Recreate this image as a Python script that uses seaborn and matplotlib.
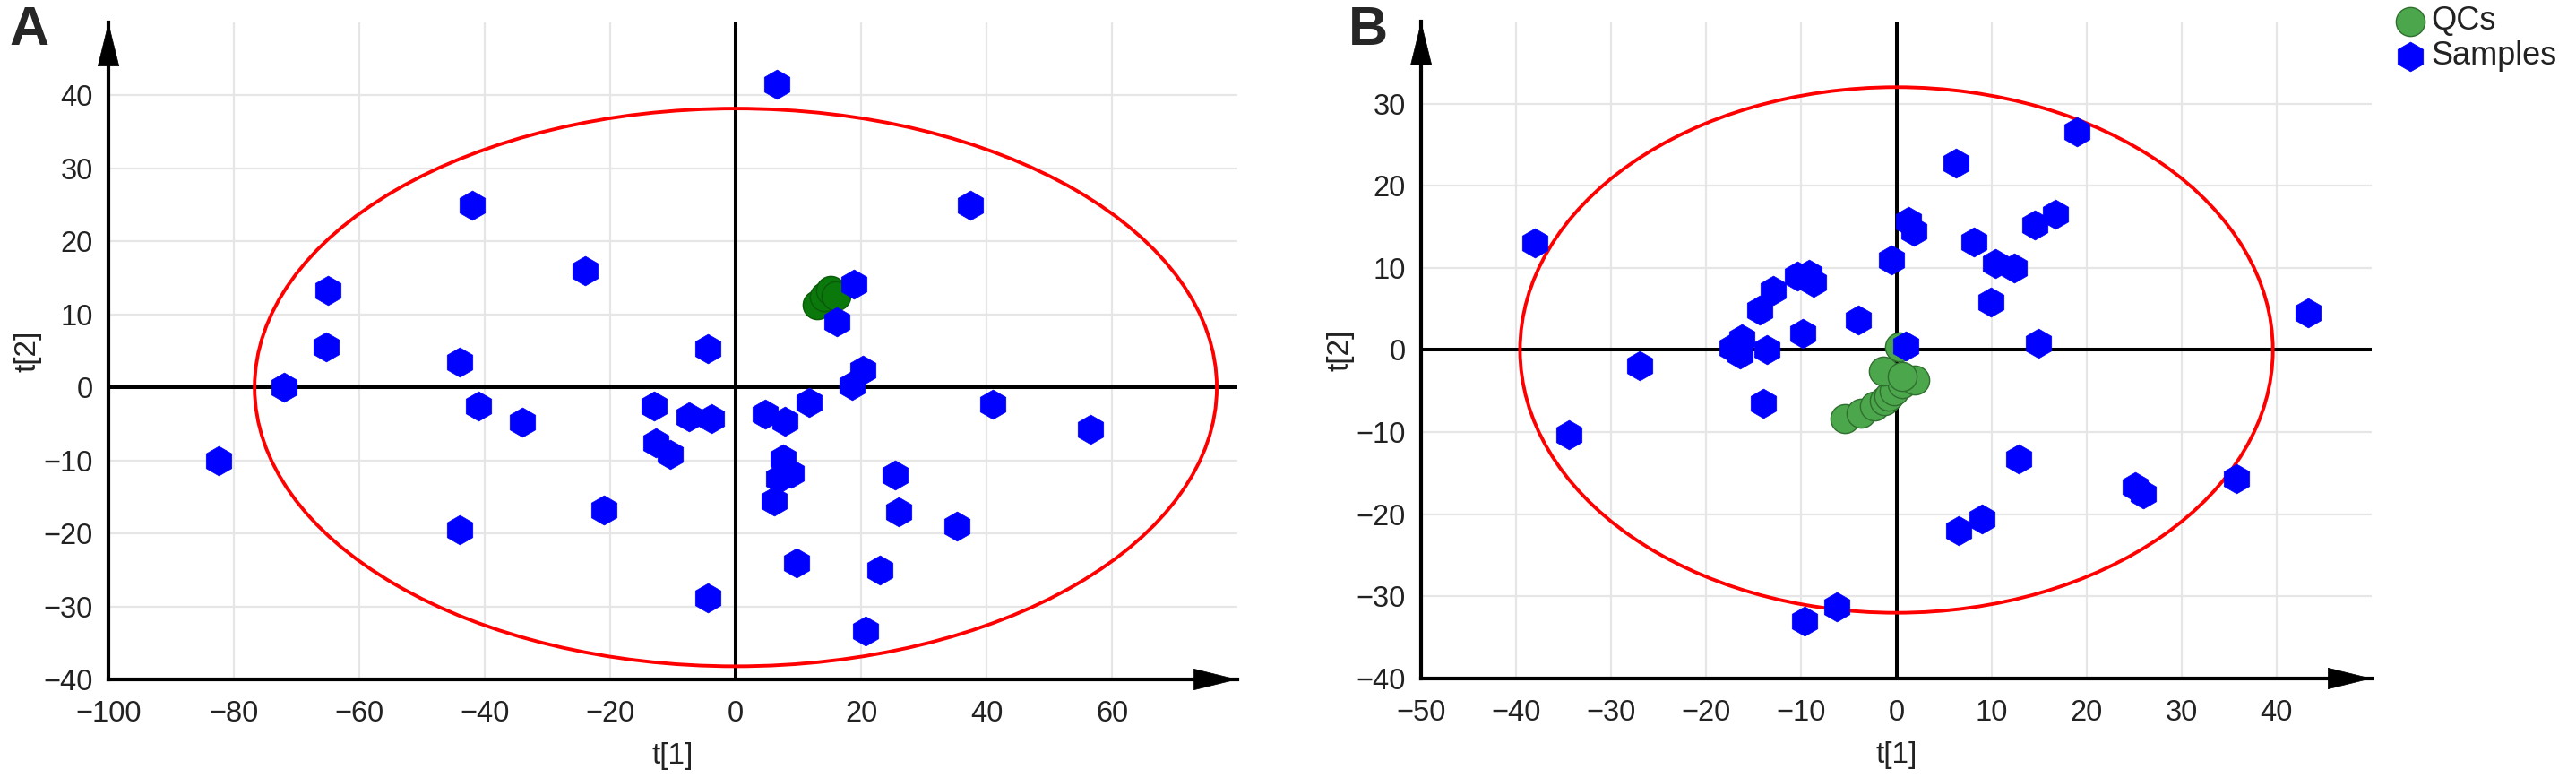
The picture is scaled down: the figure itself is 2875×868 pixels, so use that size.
import matplotlib
matplotlib.use('Agg')
from matplotlib import pyplot as plt
from matplotlib.patches import Ellipse
from matplotlib.ticker import MultipleLocator
import seaborn as sns
import pandas as pd

# Panel A scores
a_sample_t1 = [-82.5, -72, -65, -65.3, -42, -44, -41, -34, -44, -24, -21, -13, -12.7, -10.5,
               -7.5, -3.8, -4.5, -4.5, 4.7, 7.8, 11.7, 7.5, 6.8, 8.8, 6.1, 9.7, 6.5, 18.8,
               16.1, 20.3, 18.6, 25.4, 26, 23, 20.7, 35.3, 41, 56.5, 37.4]
a_sample_t2 = [-10, 0, 13.3, 5.5, 25, 3.5, -2.5, -4.8, -19.5, 16, -16.8, -2.6, -7.6, -9.2,
               -4, -4.3, 5.3, -28.8, -3.7, -4.6, -2.1, -9.8, -12.5, -11.8, -15.6, -24, 41.5, 14.2,
               9, 2.4, 0.3, -12, -17, -25, -33.4, -19, -2.3, -5.8, 25]
a_qc_t1 = [13, 14.1, 15.1, 16]
a_qc_t2 = [11.3, 12.4, 13.3, 12.5]
a_limit = (76.7, 38.2)  # ellipse semi-axes t[1], t[2]

# Panel B scores
b_sample_t1 = [-38, -34.5, -27, -17.3, -16.3, -16.5, -13.6, -14.4, -13, -10.4, -9.2, -8.7, -9.9,
               -14, -4, -0.5, 1.3, 1.8, 1, 6.3, 8.1, 10.4, 12.4, 9.9, 14.6, 16.7, 19, 14.9,
               43.3, 12.9, 25.1, 26, 35.8, 6.5, 9, -9.7, -6.3]
b_sample_t2 = [13, -10.3, -1.9, 0.3, 1.4, -0.5, 0, 4.8, 7.2, 9, 9.2, 8.2, 2,
               -6.5, 3.6, 11, 15.7, 14.5, 0.5, 22.8, 13.1, 10.5, 10, 5.8, 15.2, 16.5, 26.6, 0.8,
               4.5, -13.3, -16.7, -17.5, -15.7, -22, -20.6, -33, -31.3]
b_qc_t1 = [-5.4, -3.7, -2.3, -1.3, -0.8, -0.2, 0.6, 1.9, -1.4, 0.6, 0.3]
b_qc_t2 = [-8.4, -7.7, -6.8, -6.2, -5.6, -5.0, -4.1, -3.7, -2.6, -3.2, 0.4]
b_limit = (39.6, 32.0)

sns.set_style('white')
plt.rcParams['font.family'] = ['Liberation Sans', 'DejaVu Sans']

TXT = '#222222'


def draw_panel(ax, s_x, s_y, q_x, q_y, q_color, q_edge, limit, xlim, ylim, xticks, yticks):
    ax.set_xlim(*xlim)
    ax.set_ylim(*ylim)
    ax.set_xticks(xticks)
    ax.set_yticks(yticks)
    ax.xaxis.set_minor_locator(MultipleLocator(5))
    ax.yaxis.set_minor_locator(MultipleLocator(5))
    ax.grid(True, which='major', color='#e6e6e6', lw=1.6)
    ax.set_axisbelow(True)

    ax.axhline(0, color='black', lw=2.9, zorder=1.5)
    ax.axvline(0, color='black', lw=2.9, zorder=1.5)
    ax.add_patch(Ellipse((0, 0), 2 * limit[0], 2 * limit[1], fill=False,
                         ec='#ff0000', lw=2.8, zorder=1.8))

    qc = pd.DataFrame({'t1': q_x, 't2': q_y})
    smp = pd.DataFrame({'t1': s_x, 't2': s_y})
    sns.scatterplot(data=qc, x='t1', y='t2', ax=ax, marker='o', s=540, color=q_color,
                    edgecolor=q_edge, linewidth=1.0, label='QCs', zorder=3, legend=False)
    sns.scatterplot(data=smp, x='t1', y='t2', ax=ax, marker='h', s=560, color='#0000ff',
                    edgecolor='#0000ff', linewidth=0.5, label='Samples', zorder=4, legend=False)

    for side in ['top', 'right']:
        ax.spines[side].set_visible(False)
    for side in ['left', 'bottom']:
        ax.spines[side].set_linewidth(3.0)
        ax.spines[side].set_color('black')
    ax.tick_params(which='major', direction='out', length=9.5, width=2.4, color='black',
                   labelsize=23.5, labelcolor=TXT)
    ax.tick_params(which='minor', direction='out', length=6.5, width=2.4, color='black')
    ax.tick_params(axis='x', which='major', pad=7)
    ax.tick_params(axis='y', which='major', pad=3)

    head = dict(arrowstyle='-|>,head_length=1.7,head_width=0.42', mutation_scale=20,
                fc='black', ec='black', lw=0.5, shrinkA=0, shrinkB=0)
    ax.annotate('', xy=(1, 0), xytext=(0.9, 0), xycoords='axes fraction',
                arrowprops=head, annotation_clip=False)
    ax.annotate('', xy=(0, 1), xytext=(0, 0.9), xycoords='axes fraction',
                arrowprops=head, annotation_clip=False)

    ax.set_xlabel('t[1]', fontsize=24, color=TXT)
    ax.set_ylabel('t[2]', fontsize=24, color=TXT)
    ax.xaxis.set_label_coords(0.5, -0.095)


fig = plt.figure(figsize=(28.75, 8.68), dpi=100)
ax_a = fig.add_axes([0.0421, 0.1267, 0.4383, 0.8445])
ax_b = fig.add_axes([0.5517, 0.1279, 0.3690, 0.8445])

draw_panel(ax_a, a_sample_t1, a_sample_t2, a_qc_t1, a_qc_t2, '#0b780b', '#0a5a0a', a_limit,
           (-100, 80), (-40, 50), list(range(-100, 61, 20)), list(range(-40, 41, 10)))
draw_panel(ax_b, b_sample_t1, b_sample_t2, b_qc_t1, b_qc_t2, '#4ca64c', '#2f6e2f', b_limit,
           (-50, 50), (-40, 40), list(range(-50, 41, 10)), list(range(-40, 31, 10)))
ax_a.yaxis.set_label_coords(-0.0595, 0.5)
ax_b.yaxis.set_label_coords(-0.070, 0.5)

handles, labels = ax_b.get_legend_handles_labels()
fig.legend(handles, labels, loc='upper left', bbox_to_anchor=(2672 / 2875, 1 - 6 / 868),
           frameon=False, fontsize=26, handletextpad=0.15, labelspacing=0.12,
           borderpad=0, borderaxespad=0, handlelength=1.0, labelcolor=TXT)

fig.text(10 / 2875, 1 - 6 / 868, 'A', fontsize=44, fontweight='bold', va='top', ha='left')
fig.text(1505 / 2875, 1 - 6 / 868, 'B', fontsize=44, fontweight='bold', va='top', ha='left')

fig.savefig('out.png', dpi=100)
plt.close(fig)
